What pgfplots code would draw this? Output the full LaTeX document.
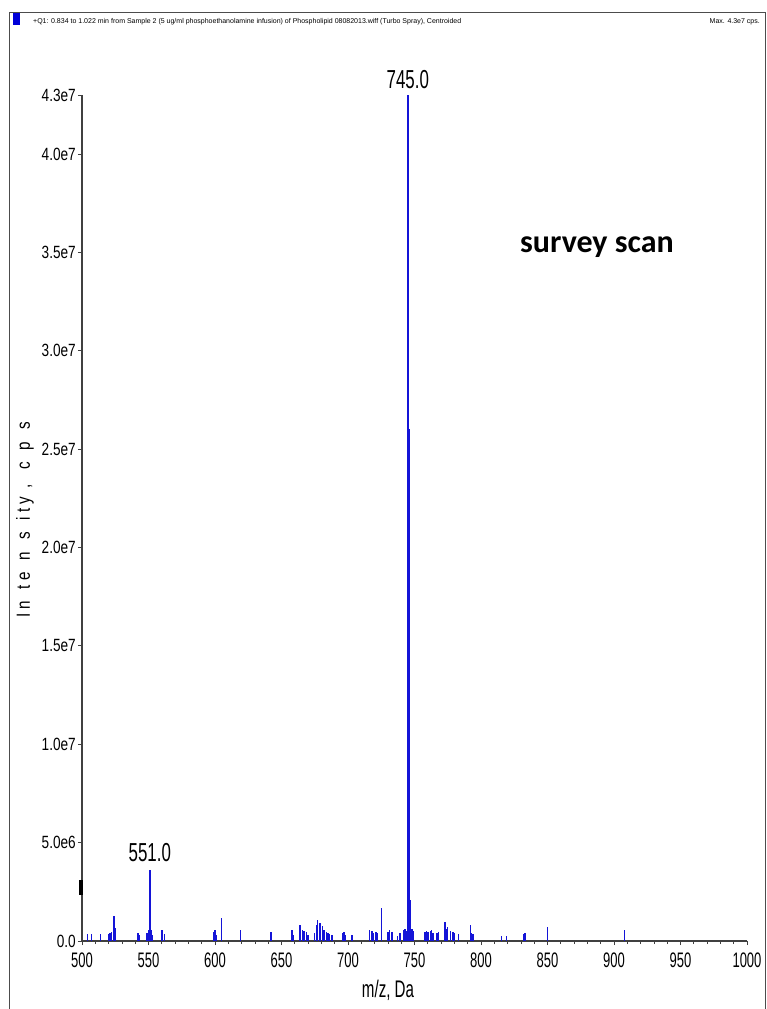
\documentclass[border=0pt]{standalone}
\usepackage{pgfplots}
\pgfplotsset{compat=1.18}
\usepackage{fontspec}
\setmainfont{Liberation Sans}
\newfontfamily\ytickfont[FakeStretch=0.77]{Liberation Sans}
\newfontfamily\xtickfont[FakeStretch=0.62]{Liberation Sans}
\newfontfamily\peakfont[FakeStretch=0.65]{Liberation Sans}
\newfontfamily\labfont[FakeStretch=0.63]{Liberation Sans}
\newfontfamily\ylabfont[FakeStretch=0.8]{Liberation Sans}
\newfontfamily\calib{Carlito}
\definecolor{specblue}{RGB}{20,20,215}
\begin{document}
\begin{tikzpicture}[x=1pt,y=1pt]
\useasboundingbox (0,0) rectangle (766,1009);
\draw[line width=1.3pt, black!70] (9.5,0) -- (9.5,996.5) -- (765.5,996.5) -- (765.5,0);
\fill[blue!85!black] (13,984) rectangle (20,996);
\node[anchor=west, font=\fontsize{7}{8}\selectfont, inner sep=0pt] at (33,987) {+Q1: 0.834 to 1.022 min from Sample 2 (5 ug/ml phosphoethanolamine infusion) of Phospholipid 08082013.wiff (Turbo Spray), Centroided};
\node[anchor=east, font=\fontsize{7}{8}\selectfont, inner sep=0pt] at (760,987) {Max. 4.3e7 cps.};
\begin{axis}[
  at={(82pt,68pt)}, anchor=south west, scale only axis,
  width=665pt, height=846pt,
  xmin=500, xmax=1000, ymin=0, ymax=4.3e7,
  axis x line*=bottom, axis y line*=left,
  axis line style={black!75, line width=1.2pt},
  xtick={500,550,600,650,700,750,800,850,900,950,1000},
  xticklabels={500,550,600,650,700,750,800,850,900,950,1000},
  minor x tick num=4,
  ytick={0,5e6,1e7,1.5e7,2e7,2.5e7,3e7,3.5e7,4e7,4.3e7},
  yticklabels={0.0,5.0e6,1.0e7,1.5e7,2.0e7,2.5e7,3.0e7,3.5e7,4.0e7,4.3e7},
  scaled y ticks=false,
  tick align=outside,
  major tick length=4pt, minor tick length=3pt,
  tick style={black!75, line width=0.8pt},
  yticklabel style={font=\fontsize{17.7}{18}\ytickfont, inner sep=2pt},
  xticklabel style={font=\fontsize{21}{22}\xtickfont, inner sep=2pt, yshift=-6pt},
  clip=false,
]
\addplot[ycomb, specblue, line width=1.4pt, mark=none] coordinates {
(504,0.34e6) (507,0.34e6) (514,0.36e6) (520,0.35e6) (521,0.42e6) (522,0.45e6)
(524,1.27e6) (525,0.64e6) (542,0.42e6) (543,0.3e6)
(549,0.4e6) (550,0.55e6) (552,0.55e6) (553,0.3e6)
(560,0.55e6) (562,0.35e6)
(599,0.45e6) (600,0.55e6) (601,0.3e6) (605,1.15e6) (619,0.55e6) (642,0.47e6)
(658,0.55e6) (659,0.3e6) (664,0.8e6) (666,0.55e6) (667,0.5e6) (669,0.45e6) (670,0.3e6)
(675,0.4e6) (676.5,0.8e6) (677,1.05e6) (679,0.9e6) (681,0.75e6) (682,0.55e6)
(684,0.45e6) (685,0.4e6) (686,0.35e6) (688,0.3e6)
(696,0.4e6) (697,0.45e6) (698,0.3e6) (703,0.3e6)
(716,0.55e6) (718,0.5e6) (719,0.4e6) (721,0.45e6) (722,0.4e6)
(725,1.7e6) (730,0.45e6) (731,0.55e6) (733,0.45e6) (737,0.25e6) (739,0.4e6)
(742,0.55e6) (743,0.6e6) (744,0.5e6)
(747,2.1e6) (748,0.6e6) (749,0.5e6)
(758,0.45e6) (759,0.5e6) (760,0.45e6) (762,0.5e6) (763,0.55e6) (764,0.4e6)
(767,0.4e6) (768,0.45e6) (773,0.98e6) (774,0.6e6) (775,0.7e6) (777,0.5e6)
(779,0.45e6) (780,0.4e6) (783,0.35e6)
(792,0.8e6) (793,0.4e6) (794,0.35e6)
(815.5,0.25e6) (819,0.25e6) (832,0.35e6) (833,0.4e6)
(850,0.73e6) (908,0.55e6)
};
\addplot[ycomb, specblue, line width=1.4pt, mark=none] coordinates {
(551,3.6e6) (745,4.3e7) (746,2.6e7)
};
\node[font=\fontsize{26}{26}\peakfont, anchor=south, inner sep=0pt, yshift=6pt] at (axis cs:745,4.3e7) {745.0};
\node[font=\fontsize{26}{26}\peakfont, anchor=south, inner sep=0pt, yshift=8pt] at (axis cs:551,3.6e6) {551.0};
\end{axis}
\fill[black] (79,114) rectangle (82.5,129);
\node[rotate=90, font=\fontsize{19}{19}\ylabfont, inner sep=0pt] at (25,489)
 {I\hspace{4pt}n\hspace{12pt}t\hspace{4pt}e\hspace{12pt}n\hspace{12pt}s\hspace{12pt}i\hspace{4pt}t\hspace{4pt}y\hspace{9pt},\hspace{14pt}c\hspace{12pt}p\hspace{12pt}s};
\node[font=\fontsize{24}{24}\labfont, inner sep=0pt] at (388,19) {m/z, Da};
\node[font=\fontsize{32}{32}\calib\bfseries, inner sep=0pt] at (597,762) {survey scan};
\end{tikzpicture}
\end{document}
